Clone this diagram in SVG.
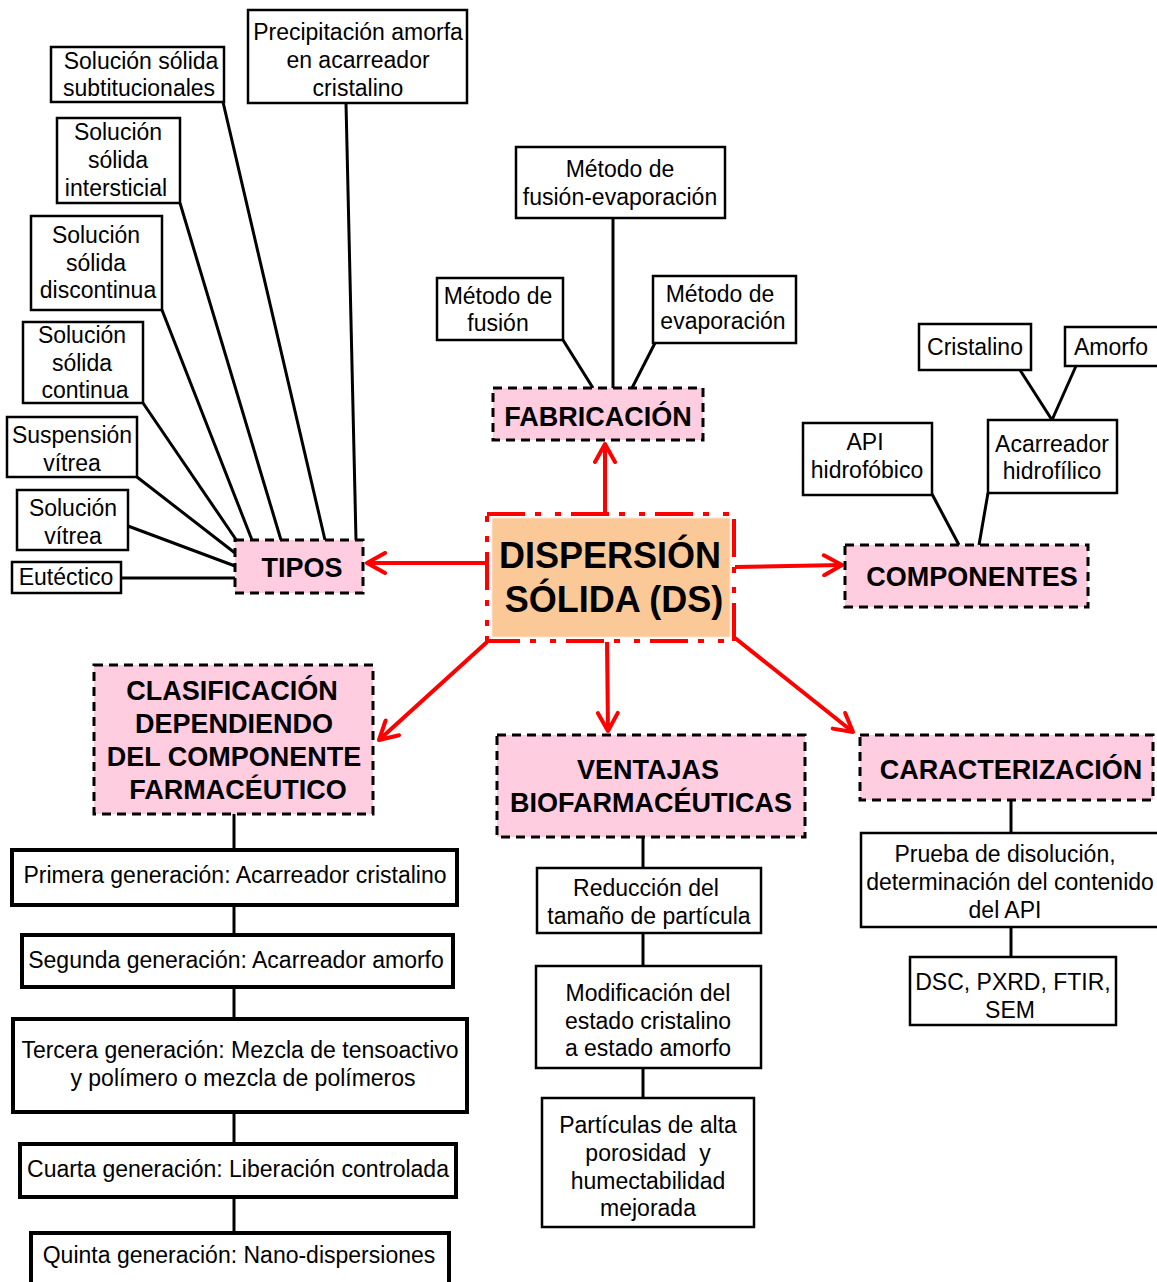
<svg xmlns="http://www.w3.org/2000/svg" width="1157" height="1282" viewBox="0 0 1157 1282">
  <style>
    text { font-family: "Liberation Sans", Arial, sans-serif; fill: #000; text-anchor: middle; }
    .t { font-size: 23px; }
    .h { font-size: 27px; font-weight: bold; }
    .main { font-size: 36px; font-weight: bold; }
    .box { fill: #fff; stroke: #000; stroke-width: 2.5; }
    .gen { fill: #fff; stroke: #000; stroke-width: 4; }
    .head { fill: #ffcce0; stroke: #000; stroke-width: 3; stroke-dasharray: 9 6; }
    .link { stroke: #000; stroke-width: 3; fill: none; }
    .arrow { stroke: #ff0000; stroke-width: 4; fill: none; marker-end: url(#chev); }
  </style>
  <defs>
    <marker id="chev" viewBox="0 0 24 24" refX="21" refY="12" markerWidth="24" markerHeight="24" markerUnits="userSpaceOnUse" orient="auto">
      <path d="M3,2 L21,12 L3,22" fill="none" stroke="#ff0000" stroke-width="4" stroke-linecap="round" stroke-linejoin="round"/>
    </marker>
  </defs>

  <rect width="1157" height="1282" fill="#fff"/>

  <!-- connectors -->
  <g id="connectors">
    <!-- TIPOS branches -->
    <line class="link" x1="346" y1="103" x2="356" y2="540"/>
    <line class="link" x1="223" y1="102" x2="325" y2="540"/>
    <line class="link" x1="180" y1="203" x2="281" y2="540"/>
    <line class="link" x1="162" y1="310" x2="252" y2="540"/>
    <line class="link" x1="143" y1="403" x2="237" y2="541"/>
    <line class="link" x1="137" y1="477" x2="235" y2="553"/>
    <line class="link" x1="128" y1="526" x2="235" y2="566"/>
    <line class="link" x1="121" y1="578" x2="235" y2="578"/>
    <!-- FABRICACIÓN branches -->
    <line class="link" x1="613" y1="218" x2="613" y2="388"/>
    <line class="link" x1="563" y1="340" x2="593" y2="388"/>
    <line class="link" x1="655" y1="343" x2="632" y2="388"/>
    <!-- COMPONENTES branches -->
    <line class="link" x1="1020" y1="370" x2="1052" y2="420"/>
    <line class="link" x1="1076" y1="366" x2="1052" y2="420"/>
    <line class="link" x1="932" y1="494" x2="959" y2="545"/>
    <line class="link" x1="988" y1="493" x2="979" y2="545"/>
    <!-- CLASIFICACIÓN chain -->
    <line class="link" x1="234" y1="814" x2="234" y2="850"/>
    <line class="link" x1="234" y1="905" x2="234" y2="935"/>
    <line class="link" x1="234" y1="987" x2="234" y2="1019"/>
    <line class="link" x1="234" y1="1112" x2="234" y2="1144"/>
    <line class="link" x1="234" y1="1197" x2="234" y2="1233"/>
    <!-- VENTAJAS chain -->
    <line class="link" x1="643" y1="837" x2="643" y2="868"/>
    <line class="link" x1="643" y1="933" x2="643" y2="966"/>
    <line class="link" x1="643" y1="1068" x2="643" y2="1098"/>
    <!-- CARACTERIZACIÓN chain -->
    <line class="link" x1="1011" y1="800" x2="1011" y2="833"/>
    <line class="link" x1="1011" y1="927" x2="1011" y2="957"/>
    <!-- red arrows from the centre -->
    <line class="arrow" x1="605" y1="514" x2="605" y2="444"/>
    <line class="arrow" x1="488" y1="563" x2="367" y2="563"/>
    <line class="arrow" x1="735" y1="567" x2="842" y2="565"/>
    <line class="arrow" x1="607" y1="642" x2="608" y2="731"/>
    <line class="arrow" x1="487" y1="642" x2="379" y2="740"/>
    <line class="arrow" x1="735" y1="638" x2="853" y2="732"/>
  </g>

  <!-- central node -->
  <g id="ds">
    <rect x="492" y="518" width="238" height="119" fill="#fbc898" stroke="#fde3cc" stroke-width="1"/>
    <rect x="487" y="514" width="247" height="127" fill="none" stroke="#ff0000" stroke-width="4" stroke-dasharray="38 10 6 14 6 10"/>
    <text class="main" x="610" y="568">DISPERSIÓN</text>
    <text class="main" x="614" y="612">SÓLIDA (DS)</text>
  </g>

  <!-- category headers -->
  <g id="fabricacion">
    <rect class="head" x="493" y="388" width="210" height="52"/>
    <text class="h" x="598" y="426">FABRICACIÓN</text>
  </g>
  <g id="tipos">
    <rect class="head" x="235" y="540" width="128" height="53"/>
    <text class="h" x="302" y="577">TIPOS</text>
  </g>
  <g id="componentes">
    <rect class="head" x="845" y="545" width="243" height="62"/>
    <text class="h" x="972" y="586">COMPONENTES</text>
  </g>
  <g id="clasificacion">
    <rect class="head" x="94" y="665" width="279" height="149"/>
    <text class="h" x="232" y="700">CLASIFICACIÓN</text>
    <text class="h" x="234" y="733">DEPENDIENDO</text>
    <text class="h" x="234" y="766">DEL COMPONENTE</text>
    <text class="h" x="238" y="799">FARMACÉUTICO</text>
  </g>
  <g id="ventajas">
    <rect class="head" x="497" y="735" width="308" height="102"/>
    <text class="h" x="648" y="779">VENTAJAS</text>
    <text class="h" x="651" y="812">BIOFARMACÉUTICAS</text>
  </g>
  <g id="caracterizacion">
    <rect class="head" x="860" y="735" width="293" height="65"/>
    <text class="h" x="1011" y="779">CARACTERIZACIÓN</text>
  </g>

  <!-- TIPOS leaves -->
  <g id="precipitacion">
    <rect class="box" x="248" y="10" width="219" height="93"/>
    <text class="t" x="358" y="40">Precipitación amorfa</text>
    <text class="t" x="358" y="68">en acarreador</text>
    <text class="t" x="358" y="96">cristalino</text>
  </g>
  <g id="sustitucional">
    <rect class="box" x="51" y="47" width="173" height="55"/>
    <text class="t" x="141" y="69">Solución sólida</text>
    <text class="t" x="139" y="96">subtitucionales</text>
  </g>
  <g id="intersticial">
    <rect class="box" x="57" y="118" width="123" height="85"/>
    <text class="t" x="118" y="140">Solución</text>
    <text class="t" x="118" y="168">sólida</text>
    <text class="t" x="116" y="196">intersticial</text>
  </g>
  <g id="discontinua">
    <rect class="box" x="31" y="216" width="131" height="94"/>
    <text class="t" x="96" y="243">Solución</text>
    <text class="t" x="96" y="271">sólida</text>
    <text class="t" x="98" y="298">discontinua</text>
  </g>
  <g id="continua">
    <rect class="box" x="23" y="322" width="120" height="81"/>
    <text class="t" x="82" y="343">Solución</text>
    <text class="t" x="82" y="371">sólida</text>
    <text class="t" x="85" y="398">continua</text>
  </g>
  <g id="suspension">
    <rect class="box" x="7" y="417" width="130" height="60"/>
    <text class="t" x="72" y="443">Suspensión</text>
    <text class="t" x="72" y="471">vítrea</text>
  </g>
  <g id="solucion-vitrea">
    <rect class="box" x="17" y="490" width="111" height="60"/>
    <text class="t" x="73" y="516">Solución</text>
    <text class="t" x="73" y="544">vítrea</text>
  </g>
  <g id="eutectico">
    <rect class="box" x="12" y="562" width="109" height="31"/>
    <text class="t" x="66" y="585">Eutéctico</text>
  </g>

  <!-- FABRICACIÓN leaves -->
  <g id="fusion-evaporacion">
    <rect class="box" x="516" y="147" width="209" height="71"/>
    <text class="t" x="620" y="177">Método de</text>
    <text class="t" x="620" y="205">fusión-evaporación</text>
  </g>
  <g id="fusion">
    <rect class="box" x="437" y="278" width="126" height="62"/>
    <text class="t" x="498" y="304">Método de</text>
    <text class="t" x="498" y="331">fusión</text>
  </g>
  <g id="evaporacion">
    <rect class="box" x="653" y="276" width="143" height="67"/>
    <text class="t" x="720" y="302">Método de</text>
    <text class="t" x="723" y="329">evaporación</text>
  </g>

  <!-- COMPONENTES leaves -->
  <g id="cristalino">
    <rect class="box" x="919" y="324" width="112" height="46"/>
    <text class="t" x="975" y="355">Cristalino</text>
  </g>
  <g id="amorfo">
    <rect class="box" x="1065" y="327" width="95" height="39"/>
    <text class="t" x="1111" y="355">Amorfo</text>
  </g>
  <g id="api">
    <rect class="box" x="803" y="423" width="129" height="72"/>
    <text class="t" x="865" y="450">API</text>
    <text class="t" x="867" y="478">hidrofóbico</text>
  </g>
  <g id="acarreador">
    <rect class="box" x="988" y="420" width="129" height="73"/>
    <text class="t" x="1052" y="452">Acarreador</text>
    <text class="t" x="1052" y="479">hidrofílico</text>
  </g>

  <!-- generations -->
  <g id="gen1">
    <rect class="gen" x="12" y="850" width="445" height="55"/>
    <text class="t" x="235" y="883">Primera generación: Acarreador cristalino</text>
  </g>
  <g id="gen2">
    <rect class="gen" x="22" y="935" width="431" height="52"/>
    <text class="t" x="236" y="968">Segunda generación: Acarreador amorfo</text>
  </g>
  <g id="gen3">
    <rect class="gen" x="13" y="1019" width="454" height="93"/>
    <text class="t" x="240" y="1058">Tercera generación: Mezcla de tensoactivo</text>
    <text class="t" x="243" y="1086">y polímero o mezcla de polímeros</text>
  </g>
  <g id="gen4">
    <rect class="gen" x="20" y="1144" width="436" height="53"/>
    <text class="t" x="238" y="1177">Cuarta generación: Liberación controlada</text>
  </g>
  <g id="gen5">
    <rect class="gen" x="31" y="1233" width="418" height="60"/>
    <text class="t" x="239" y="1263">Quinta generación: Nano-dispersiones</text>
  </g>

  <!-- VENTAJAS leaves -->
  <g id="reduccion">
    <rect class="box" x="537" y="868" width="224" height="65"/>
    <text class="t" x="646" y="896">Reducción del</text>
    <text class="t" x="649" y="924">tamaño de partícula</text>
  </g>
  <g id="modificacion">
    <rect class="box" x="536" y="966" width="225" height="102"/>
    <text class="t" x="648" y="1001">Modificación del</text>
    <text class="t" x="648" y="1029">estado cristalino</text>
    <text class="t" x="648" y="1056">a estado amorfo</text>
  </g>
  <g id="particulas">
    <rect class="box" x="542" y="1098" width="212" height="129"/>
    <text class="t" x="648" y="1133">Partículas de alta</text>
    <text class="t" x="648" y="1161">porosidad&#160; y</text>
    <text class="t" x="648" y="1189">humectabilidad</text>
    <text class="t" x="648" y="1216">mejorada</text>
  </g>

  <!-- CARACTERIZACIÓN leaves -->
  <g id="prueba">
    <rect class="box" x="861" y="833" width="300" height="94"/>
    <text class="t" x="1005" y="862">Prueba de disolución,</text>
    <text class="t" x="1010" y="890">determinación del contenido</text>
    <text class="t" x="1005" y="918">del API</text>
  </g>
  <g id="tecnicas">
    <rect class="box" x="910" y="957" width="206" height="68"/>
    <text class="t" x="1013" y="990">DSC, PXRD, FTIR,</text>
    <text class="t" x="1010" y="1018">SEM</text>
  </g>
</svg>
